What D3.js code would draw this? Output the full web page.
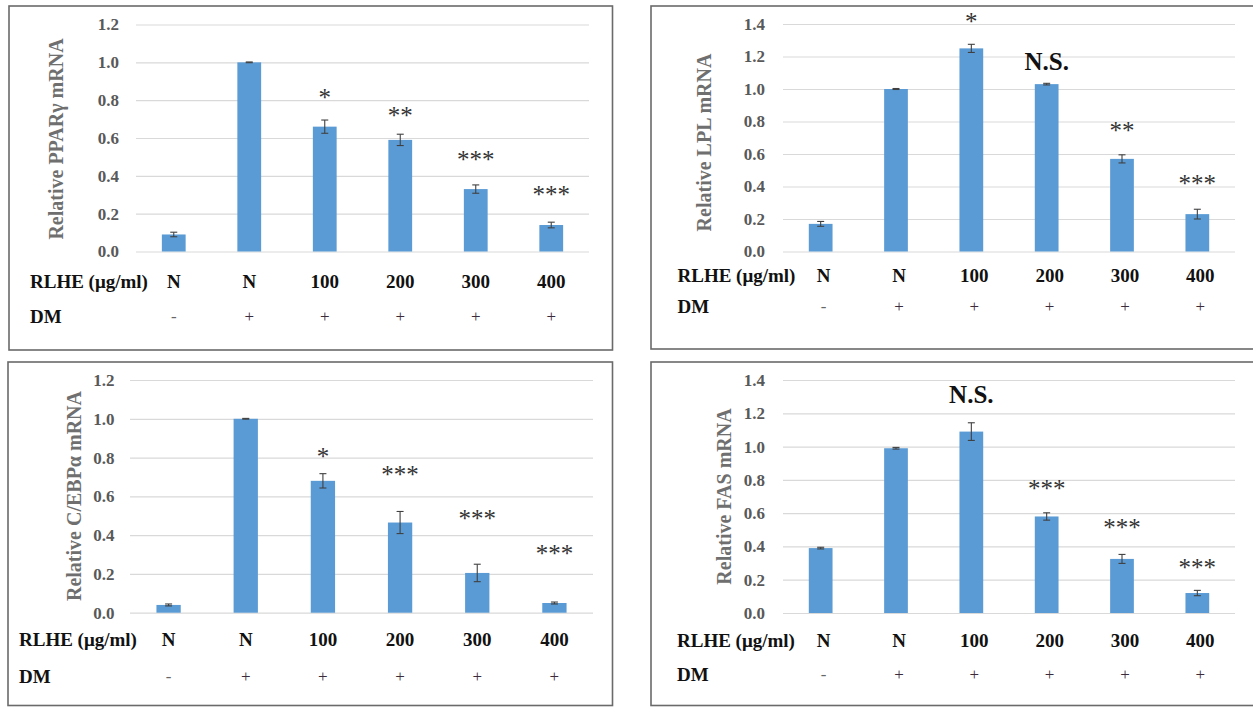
<!DOCTYPE html>
<html>
<head>
<meta charset="utf-8">
<script src="https://cdn.jsdelivr.net/npm/d3@7"></script>
<style>
  html, body { margin: 0; padding: 0; background: #fff; }
  svg { display: block; }
  svg text { font-family: "Liberation Serif", "Times New Roman", Times, "DejaVu Serif", serif !important; }
</style>
</head>
<body>
<svg id="chart" width="1253" height="707"></svg>
<script>
// ---------- DATA ----------
const categories = ["N", "N", "100", "200", "300", "400"];
const dmSigns = ["-", "+", "+", "+", "+", "+"];
const rowLabel1 = "RLHE (μg/ml)";
const rowLabel2 = "DM";

const ticks12 = [0, 0.2, 0.4, 0.6, 0.8, 1.0, 1.2];
const ticks14 = [0, 0.2, 0.4, 0.6, 0.8, 1.0, 1.2, 1.4];

// PPARγ
const ppargMean = [0.09, 1.0, 0.66, 0.59, 0.33, 0.14];
const ppargErr  = [0.012, 0.002, 0.035, 0.03, 0.022, 0.015];
const ppargSig  = ["", "", "*", "**", "***", "***"];
const ppargSigLevel = [null, null, 0.83, 0.735, 0.50, 0.315];

// LPL
const lplMean = [0.17, 1.0, 1.25, 1.03, 0.57, 0.23];
const lplErr  = [0.015, 0.003, 0.025, 0.005, 0.025, 0.03];
const lplSig  = ["", "", "*", "N.S.", "**", "***"];
const lplSigLevel = [null, null, 1.435, 1.168, 0.766, 0.434];

// C/EBPα
const cebpMean = [0.04, 1.0, 0.68, 0.465, 0.205, 0.05];
const cebpErr  = [0.005, 0.002, 0.037, 0.057, 0.045, 0.005];
const cebpSig  = ["", "", "*", "***", "***", "***"];
const cebpSigLevel = [null, null, 0.822, 0.727, 0.499, 0.323];

// FAS
const fasMean = [0.39, 0.99, 1.09, 0.58, 0.325, 0.12];
const fasErr  = [0.005, 0.005, 0.053, 0.022, 0.027, 0.016];
const fasSig  = ["", "", "N.S.", "***", "***", "***"];
const fasSigLevel = [null, null, 1.31, 0.769, 0.529, 0.293];

// ---------- LAYOUT ----------
const FONT = "Liberation Serif";
const svg = d3.select("#chart");
svg.append("rect").attr("width", 1253).attr("height", 707).attr("fill", "#fff");

const panels = [
  { title: "Relative PPARγ mRNA", mean: ppargMean, err: ppargErr, sig: ppargSig, sigLevel: ppargSigLevel,
    ticks: ticks12, ymax: 1.2,
    box: [9, 6, 612.5, 350], x0: 136, x1: 589, y0: 251.5, y1: 24.5, pad: 17,
    titleX: 57, titleY: 139, rowX: 30, row1Y: 282, row2Y: 316.5, labOff: 0 },
  { title: "Relative LPL mRNA", mean: lplMean, err: lplErr, sig: lplSig, sigLevel: lplSigLevel,
    ticks: ticks14, ymax: 1.4,
    box: [651, 6, 1256, 349], x0: 783, x1: 1235, y0: 251.5, y1: 24, pad: 18,
    titleX: 705, titleY: 142.5, rowX: 677.5, row1Y: 275.5, row2Y: 306.5, labOff: 3 },
  { title: "Relative C/EBPα mRNA", mean: cebpMean, err: cebpErr, sig: cebpSig, sigLevel: cebpSigLevel,
    ticks: ticks12, ymax: 1.2,
    box: [8, 362, 612.5, 705.5], x0: 130, x1: 593, y0: 612.7, y1: 380, pad: 15.5,
    titleX: 75, titleY: 496, rowX: 19, row1Y: 640, row2Y: 676.5, labOff: 0 },
  { title: "Relative FAS mRNA", mean: fasMean, err: fasErr, sig: fasSig, sigLevel: fasSigLevel,
    ticks: ticks14, ymax: 1.4,
    box: [651, 362, 1256, 705.5], x0: 783, x1: 1235, y0: 613, y1: 380, pad: 18,
    titleX: 725, titleY: 496.5, rowX: 677, row1Y: 641, row2Y: 674.5, labOff: 3 }
];

panels.forEach(p => {
  const g = svg.append("g");
  const [bx0, by0, bx1, by1] = p.box;
  g.append("rect")
    .attr("x", bx0).attr("y", by0)
    .attr("width", bx1 - bx0).attr("height", by1 - by0)
    .attr("fill", "none").attr("stroke", "#6a6a6a").attr("stroke-width", 1.6);

  const x = d3.scaleBand().domain(d3.range(categories.length))
    .range([p.x0, p.x1]).paddingInner(0.685).paddingOuter(0.3425);
  const y = d3.scaleLinear().domain([0, p.ymax]).range([p.y0, p.y1]);

  // gridlines + tick labels
  const ax = g.append("g").attr("transform", `translate(${p.x0},0)`)
    .call(d3.axisLeft(y).tickValues(p.ticks).tickFormat(d3.format(".1f"))
      .tickSizeInner(-(p.x1 - p.x0)).tickSizeOuter(0).tickPadding(p.pad));
  ax.attr("font-family", null);
  ax.select(".domain").remove();
  ax.selectAll(".tick line").attr("stroke", "#d9d9d9").attr("stroke-width", 1.2);
  ax.selectAll(".tick text")
    .attr("fill", "#595959").attr("font-family", FONT)
    .attr("font-size", 17).attr("font-weight", "bold");

  // bars
  g.selectAll(".bar").data(p.mean).join("rect")
    .attr("x", (d, i) => x(i)).attr("width", x.bandwidth())
    .attr("y", d => y(d)).attr("height", d => y(0) - y(d))
    .attr("fill", "#5b9bd5");

  // error bars
  const cap = 3.5;
  const eg = g.append("g").attr("stroke", "#404040").attr("stroke-width", 1.1);
  p.mean.forEach((m, i) => {
    const cx = x(i) + x.bandwidth() / 2;
    const top = y(m + p.err[i]), bot = y(m - p.err[i]);
    eg.append("line").attr("x1", cx).attr("x2", cx).attr("y1", top).attr("y2", bot);
    eg.append("line").attr("x1", cx - cap).attr("x2", cx + cap).attr("y1", top).attr("y2", top);
    eg.append("line").attr("x1", cx - cap).attr("x2", cx + cap).attr("y1", bot).attr("y2", bot);
  });

  // significance labels
  p.sig.forEach((s, i) => {
    if (!s) return;
    const cx = x(i) + x.bandwidth() / 2;
    const isNS = s === "N.S.";
    g.append("text")
      .attr("x", cx).attr("y", y(p.sigLevel[i]))
      .attr("dy", isNS ? "0.34em" : "0.46em")
      .attr("text-anchor", "middle")
      .attr("font-family", FONT)
      .attr("font-size", 25)
      .attr("font-weight", isNS ? "bold" : "normal")
      .attr("fill", isNS ? "#111" : "#333")
      .text(s);
  });

  // y title
  g.append("text")
    .attr("transform", `translate(${p.titleX},${p.titleY}) rotate(-90)`)
    .attr("text-anchor", "middle").attr("dy", "0.3em")
    .attr("font-family", FONT).attr("font-size", 20).attr("font-weight", "bold")
    .attr("fill", "#6f6f6f")
    .text(p.title);

  // row labels
  g.append("text").attr("x", p.rowX).attr("y", p.row1Y).attr("dy", "0.34em")
    .attr("font-family", FONT).attr("font-size", 19).attr("font-weight", "bold")
    .attr("fill", "#111").text(rowLabel1);
  g.append("text").attr("x", p.rowX).attr("y", p.row2Y).attr("dy", "0.34em")
    .attr("font-family", FONT).attr("font-size", 19).attr("font-weight", "bold")
    .attr("fill", "#111").text(rowLabel2);

  g.selectAll(".cat").data(categories).join("text")
    .attr("x", (d, i) => x(i) + x.bandwidth() / 2 + p.labOff)
    .attr("y", p.row1Y).attr("dy", "0.34em")
    .attr("text-anchor", "middle")
    .attr("font-family", FONT).attr("font-size", 19).attr("font-weight", "bold")
    .attr("fill", "#111").text(d => d);

  g.selectAll(".dm").data(dmSigns).join("text")
    .attr("x", (d, i) => x(i) + x.bandwidth() / 2 + p.labOff)
    .attr("y", p.row2Y).attr("dy", "0.34em")
    .attr("text-anchor", "middle")
    .attr("font-family", FONT).attr("font-size", 17)
    .attr("fill", d => d === "-" ? "#666" : "#3b2b3b").text(d => d);
});
</script>
</body>
</html>
